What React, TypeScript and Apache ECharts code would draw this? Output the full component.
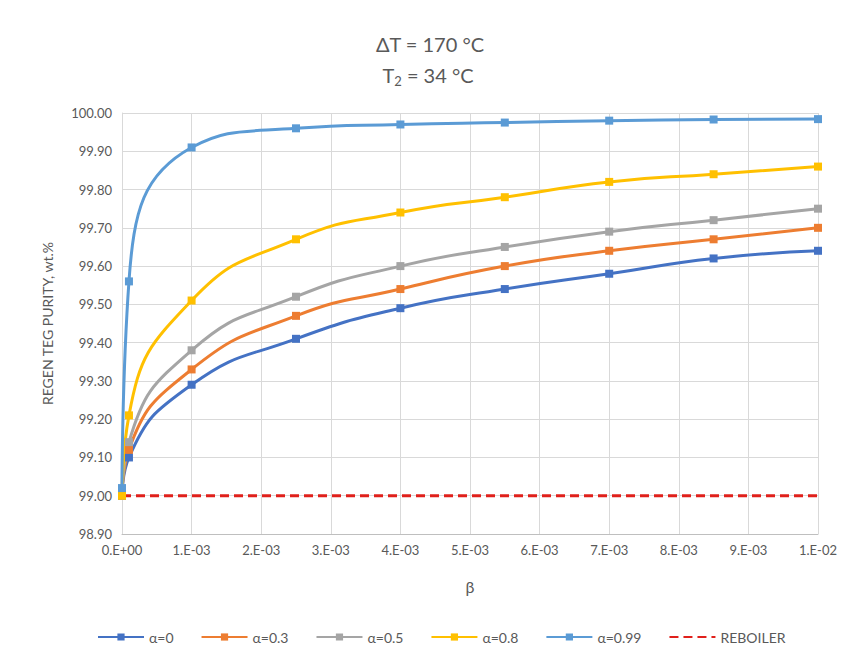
import React, { useEffect, useRef } from "react";
import * as echarts from "echarts";

const betaValues = [0, 0.0001, 0.001, 0.0025, 0.004, 0.0055, 0.007, 0.0085, 0.01];
const alpha0 = [99.0, 99.1, 99.29, 99.41, 99.49, 99.54, 99.58, 99.62, 99.64];
const alpha03 = [99.0, 99.12, 99.33, 99.47, 99.54, 99.6, 99.64, 99.67, 99.7];
const alpha05 = [99.0, 99.14, 99.38, 99.52, 99.6, 99.65, 99.69, 99.72, 99.75];
const alpha08 = [99.0, 99.21, 99.51, 99.67, 99.74, 99.78, 99.82, 99.84, 99.86];
const alpha099 = [99.02, 99.56, 99.91, 99.96, 99.97, 99.975, 99.98, 99.983, 99.984];
const reboilerX = [0, 0.01];
const reboilerY = [99.0, 99.0];

const seriesNames = ["α=0", "α=0.3", "α=0.5", "α=0.8", "α=0.99", "REBOILER"];
const seriesColors = ["#4472C4", "#ED7D31", "#A5A5A5", "#FFC000", "#5B9BD5", "#E0201B"];

const FONT = "Lato, 'Open Sans', sans-serif";
const TEXT = "#595959";

function fmtX(v: number): string {
  if (Math.abs(v) < 1e-12) return "0.E+00";
  const e = Math.floor(Math.log10(v) + 1e-9);
  const m = Math.round(v / Math.pow(10, e));
  const sign = e < 0 ? "-" : "+";
  const ae = Math.abs(e);
  return `${m}.E${sign}${ae < 10 ? "0" + ae : ae}`;
}

export default function App() {
  const ref = useRef<HTMLDivElement>(null);
  useEffect(() => {
    if (!ref.current) return;
    const chart = echarts.init(ref.current, undefined, { renderer: "svg" });
    const curves = [alpha0, alpha03, alpha05, alpha08, alpha099];
    const series: any[] = curves.map((vals, i) => ({
      name: seriesNames[i],
      type: "line",
      smooth: 0.5,
      data: betaValues.map((b, j) => [b, vals[j]]),
      symbol: "rect",
      symbolSize: 8,
      lineStyle: { width: 3, color: seriesColors[i] },
      itemStyle: { color: seriesColors[i] },
    }));
    series.push({
      name: seriesNames[5],
      type: "line",
      data: reboilerX.map((b, j) => [b, reboilerY[j]]),
      symbol: "none",
      lineStyle: { width: 3, color: seriesColors[5], type: [9, 5] },
      itemStyle: { color: seriesColors[5] },
    });
    const legendData: any[] = seriesNames.map((n, i) =>
      i === 5 ? { name: n, itemStyle: { opacity: 0 } } : { name: n }
    );
    chart.setOption({
      animation: false,
      backgroundColor: "#ffffff",
      textStyle: { fontFamily: FONT },
      graphic: [
        {
          type: "text",
          x: 430,
          y: 44,
          style: {
            text: "ΔT = 170 °C",
            fontSize: 20,
            fontFamily: FONT,
            fill: TEXT,
            align: "center",
            verticalAlign: "middle",
          },
        },
        {
          type: "text",
          x: 428,
          y: 75,
          style: {
            text: "{a|T}{s|2}{a| = 34 °C}",
            fontSize: 20,
            fontFamily: FONT,
            fill: TEXT,
            align: "center",
            verticalAlign: "middle",
            rich: {
              a: { fontSize: 20, fontFamily: FONT, fill: TEXT },
              s: { fontSize: 13, fontFamily: FONT, fill: TEXT, padding: [12, 0, 0, 0] },
            },
          },
        },
      ],
      grid: { left: 122, right: 28, top: 113, bottom: 123, containLabel: false },
      legend: {
        data: legendData,
        left: 92,
        top: 625,
        itemWidth: 46,
        itemHeight: 9,
        itemGap: 27,
        textStyle: { color: TEXT, fontSize: 14, fontFamily: FONT },
      },
      xAxis: {
        type: "value",
        min: 0,
        max: 0.01,
        interval: 0.001,
        name: "β",
        nameLocation: "middle",
        nameGap: 44,
        nameTextStyle: { color: TEXT, fontSize: 16, fontFamily: FONT },
        axisLine: { show: true, lineStyle: { color: "#BFBFBF" } },
        axisTick: { show: false },
        axisLabel: { color: TEXT, fontSize: 13, margin: 9, formatter: (v: number) => fmtX(v) },
        splitLine: { show: true, lineStyle: { color: "#D9D9D9", width: 1 } },
      },
      yAxis: {
        type: "value",
        min: 98.9,
        max: 100,
        interval: 0.1,
        name: "REGEN TEG PURITY, wt.%",
        nameLocation: "middle",
        nameGap: 68,
        nameTextStyle: { color: TEXT, fontSize: 14, fontFamily: FONT },
        axisLine: { show: true, lineStyle: { color: "#D9D9D9" } },
        axisTick: { show: false },
        axisLabel: { color: TEXT, fontSize: 13, margin: 10, formatter: (v: number) => v.toFixed(2) },
        splitLine: { show: true, lineStyle: { color: "#D9D9D9", width: 1 } },
      },
      series,
    });
    return () => chart.dispose();
  }, []);
  return (
    <div
      ref={ref}
      style={{ position: "absolute", left: 0, top: 0, width: 846, height: 657 }}
    />
  );
}
